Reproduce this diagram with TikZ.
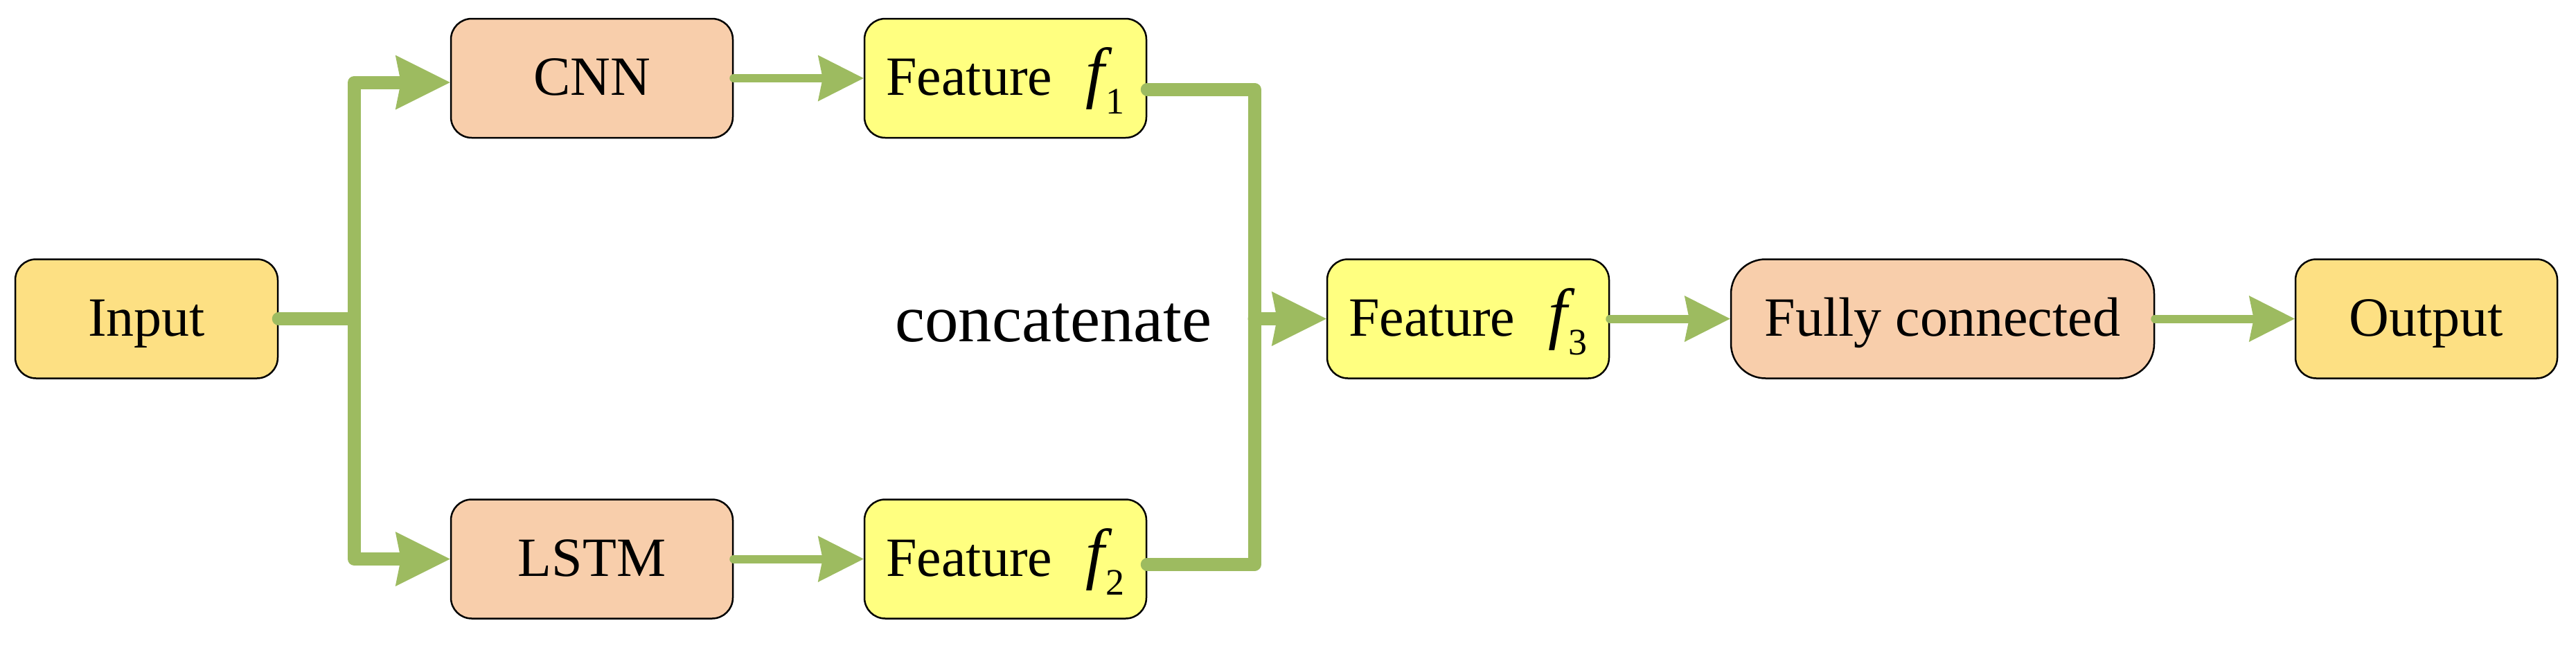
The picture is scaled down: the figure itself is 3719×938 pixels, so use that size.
\documentclass[tikz,border=0pt]{standalone}
\usepackage{fontspec}
\setmainfont{Liberation Serif}
\usetikzlibrary{arrows.meta,calc}
\definecolor{goldfill}{RGB}{253,224,131}
\definecolor{peachfill}{RGB}{248,206,171}
\definecolor{lemonfill}{RGB}{255,255,128}
\definecolor{linkgreen}{RGB}{157,187,96}
\newcommand\featlabel[1]{Feature\hspace{48pt}{\fontsize{98}{100}\selectfont\itshape f}\kern2pt\raisebox{-27pt}{\fontsize{54}{60}\selectfont #1}}
\begin{document}
\begin{tikzpicture}[x=1pt,y=-1pt,
  nodebox/.style={draw=black,line width=2.5pt,rounded corners=30pt,minimum height=172pt,
    inner sep=0pt,text height=60pt,text depth=11pt,font=\fontsize{80}{96}\selectfont},
  goldbox/.style={nodebox,fill=goldfill},
  peachbox/.style={nodebox,fill=peachfill},
  lemonbox/.style={nodebox,fill=lemonfill},
  bigtip/.tip={Stealth[length=79pt,width=79pt,inset=8pt,line width=0pt]},
  smalltip/.tip={Stealth[length=66pt,width=67pt,inset=7pt,line width=0pt]},
  thicklink/.style={draw=linkgreen,line width=19pt,line cap=round,line join=round},
  thinlink/.style={draw=linkgreen,line width=12pt,line cap=round,line join=round,-smalltip}]
\useasboundingbox (0,0) rectangle (3719,938);
% nodes
\node[goldbox,minimum width=379pt] (in) at (211.5,460.5) {Input};
\node[peachbox,minimum width=407pt] (cnn) at (854.5,113) {CNN};
\node[peachbox,minimum width=407pt] (lstm) at (854.5,807.5) {LSTM};
\node[lemonbox,minimum width=407pt] (f1) at (1451.5,113) {\featlabel{1}};
\node[lemonbox,minimum width=407pt] (f2) at (1451.5,807.5) {\featlabel{2}};
\node[lemonbox,minimum width=407pt] (f3) at (2119.5,460.5) {\featlabel{3}};
\node[peachbox,minimum width=611pt,rounded corners=50pt] (fc) at (2804.5,460.5) {Fully connected};
\node[goldbox,minimum width=378pt] (out) at (3503,460.5) {Output};
\node[anchor=base,inner sep=0pt,font=\fontsize{97}{110}\selectfont] (cat) at (1521,493) {concatenate};
% junctions
\coordinate (jL) at (511.5,460.5);
\coordinate (jR) at (1811,460.5);
% connectors
\draw[thicklink] (in.east) -- (jL);
\draw[thicklink,-bigtip] (jL) |- ($(cnn.west)+(0,6)$);
\draw[thicklink,-bigtip] (jL) |- (lstm.west);
\draw[thinlink] (cnn.east) -- (f1.west);
\draw[thinlink] (lstm.east) -- (f2.west);
\draw[thicklink] ($(f1.east)+(0,16)$) -| (jR);
\draw[thicklink] ($(f2.east)+(0,8)$) -| (jR);
\draw[thicklink,-bigtip] (jR) -- (f3.west);
\draw[thinlink] (f3.east) -- (fc.west);
\draw[thinlink] (fc.east) -- (out.west);
\end{tikzpicture}
\end{document}
